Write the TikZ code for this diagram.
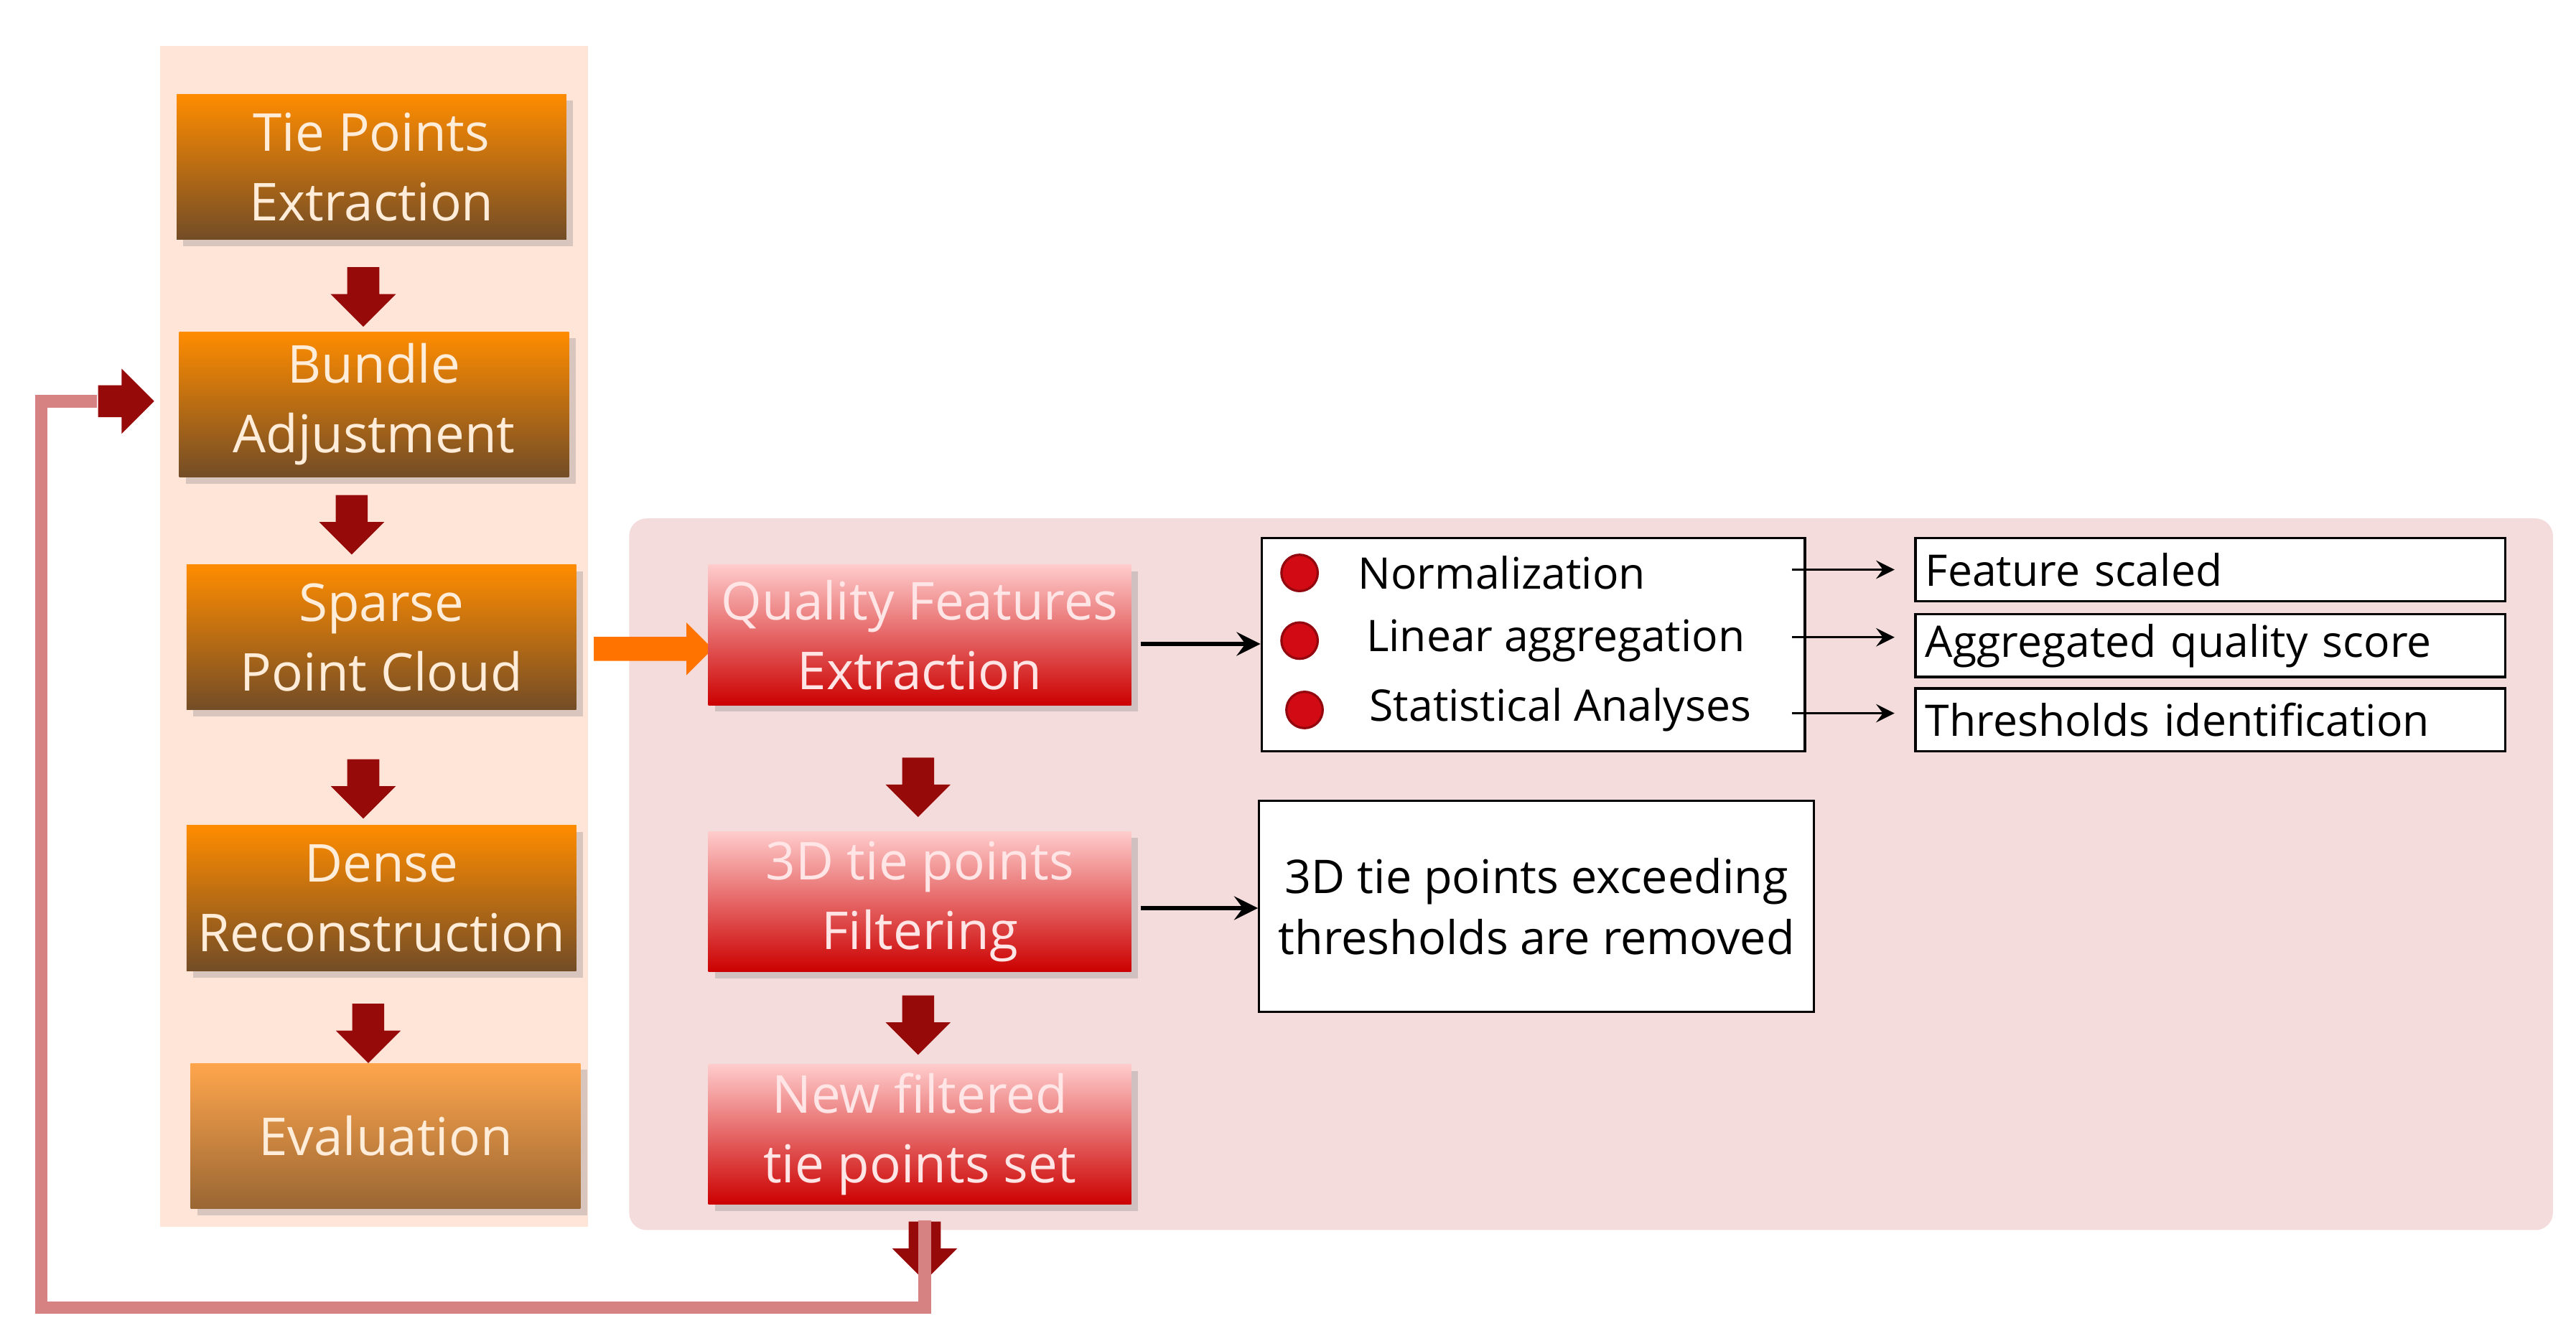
\documentclass[tikz,border=0pt]{standalone}
\usepackage{fontspec}
\setmainfont{Open Sans}
\usetikzlibrary{shapes.arrows,shadows}
\definecolor{peach}{RGB}{255,228,216}
\definecolor{rose}{RGB}{245,220,220}
\definecolor{looppink}{RGB}{214,130,130}
\definecolor{blockred}{RGB}{150,10,10}
\definecolor{dot}{RGB}{210,10,20}
\tikzset{
  stage/.style={minimum width=2.36cm, minimum height=0.88cm, inner sep=1pt, align=center, text=white!85!orange,
    top color=orange!90!yellow, bottom color=brown!60!black, drop shadow={opacity=0.3, shadow xshift=0.04cm, shadow yshift=-0.04cm},
    font=\fontsize{9}{12}\selectfont},
  weak/.style={stage, top color=orange!70!white, bottom color=brown!80!black},
  filt/.style={minimum width=2.56cm, minimum height=0.85cm, inner sep=1pt, align=center, text=white!90!red,
    top color=red!20!white, bottom color=red!80!black, drop shadow={opacity=0.3, shadow xshift=0.04cm, shadow yshift=-0.04cm},
    font=\fontsize{9}{12}\selectfont},
  down/.style={single arrow, rotate=-90, fill=blockred, inner sep=0.09cm, minimum width=0.38cm,
    minimum height=0.36cm, single arrow head extend=0.1cm},
  info/.style={draw, fill=white, minimum width=3.57cm, minimum height=0.38cm, inner sep=1pt,
    font=\fontsize{7.5}{9}\selectfont, text width=3.45cm},
  item/.style={font=\fontsize{7.5}{9}\selectfont, anchor=west},
  pt/.style={circle, fill=dot, draw=dot!70!black, minimum size=0.22cm, inner sep=0},
}
\begin{document}
\begin{tikzpicture}
\useasboundingbox (0,0) rectangle (15.6,8.12);
\fill[peach] (0.97,0.69) rectangle (3.56,7.84);
\fill[rose, rounded corners=3pt] (3.81,0.67) rectangle (15.46,4.98);

\node[stage] (tie) at (2.25,7.11) {Tie Points\\Extraction};
\node[stage] (bundle) at (2.265,5.67) {Bundle\\Adjustment};
\node[stage] (sparse) at (2.31,4.26) {Sparse\\Point Cloud};
\node[stage] (dense) at (2.31,2.68) {Dense\\Reconstruction};
\node[weak] (eval) at (2.335,1.24) {Evaluation};

\node[down] (d1) at (2.20,6.37) {};
\node[down] (d2) at (2.13,4.99) {};
\node[down] (d3) at (2.20,3.39) {};
\node[down] (d4) at (2.23,1.91) {};

\node[single arrow, fill=orange!90!red, inner sep=0.06cm, minimum width=0.32cm, minimum height=0.72cm,
  single arrow head extend=0.08cm] (go) at (3.92,4.19) {};

\node[filt] (quality) at (5.57,4.275) {Quality Features\\Extraction};
\node[filt] (filter) at (5.57,2.66) {3D tie points\\Filtering};
\node[filt] (new) at (5.57,1.25) {New filtered\\tie points set};

\node[down] (d5) at (5.56,3.40) {};
\node[down] (d6) at (5.56,1.96) {};
\node[down] (d7) at (5.60,0.59) {};

% feedback loop
\node[single arrow, fill=blockred, inner sep=0.09cm, minimum width=0.38cm, minimum height=0.34cm,
  single arrow head extend=0.1cm] (back) at (0.715,5.69) {};
\draw[looppink, line width=2.2pt] (d7.west) |- (0.25,0.20) |- (back.west);

% quality features
\node[draw, fill=white, minimum width=3.29cm, minimum height=1.29cm] (list) at (9.285,4.215) {};
\node[pt] (p1) at (7.87,4.65) {};
\node[pt] (p2) at (7.87,4.24) {};
\node[pt] (p3) at (7.90,3.82) {};
\node[item] (norm) at (8.10,4.65) {Normalization};
\node[item] (lin) at (8.15,4.24) {Linear aggregation};
\node[item] (stat) at (8.17,3.82) {Statistical Analyses};
\coordinate (s1) at (10.85,4.67);
\coordinate (s2) at (10.85,4.26);
\coordinate (s3) at (10.85,3.80);

\node[info] (scaled) at (13.385,4.67) {Feature scaled};
\node[info] (score) at (13.385,4.21) {Aggregated quality score};
\node[info] (thres) at (13.385,3.76) {Thresholds identification};
\draw[-stealth, shorten >=0.12cm] (s1) -- (s1 -| scaled.west);
\draw[-stealth, shorten >=0.12cm] (s2) -- (s2 -| score.west);
\draw[-stealth, shorten >=0.12cm] (s3) -- (s3 -| thres.west);

\node[draw, fill=white, minimum width=3.29cm, minimum height=1.28cm, align=center,
  font=\fontsize{8}{10.5}\selectfont] (removed) at (9.305,2.63)
  {3D tie points exceeding\\thresholds are removed};

\draw[-stealth, thick, shorten <=0.05cm] (quality.east |- 0,4.22) -- (list.west |- 0,4.22);
\draw[-stealth, thick, shorten <=0.05cm] (filter.east |- 0,2.62) -- (removed.west |- 0,2.62);
\end{tikzpicture}
\end{document}
